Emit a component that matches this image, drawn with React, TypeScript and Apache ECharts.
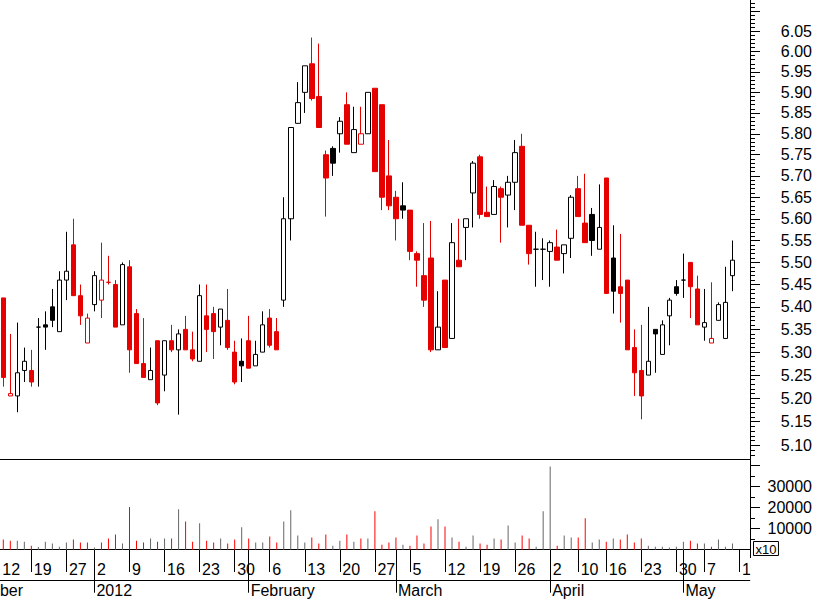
import React, { useEffect, useRef } from "react";
import * as echarts from "echarts";

// ---- calendar ----
const axisStartDate = "2011-12-01";
const axisEndDate = "2012-05-15";
const holidays = ["2011-12-26", "2012-04-06", "2012-04-09", "2012-05-01"];
const firstDataDate = "2011-12-13";
const closeBeforeFirst = 5.43;
const monthNames = ["January", "February", "March", "April", "May", "June", "July", "August", "September", "October", "November", "December"];

// ---- daily prices (13 Dec 2011 .. 11 May 2012) ----
const opens = [
  5.42, 5.205, 5.205, 5.26, 5.26, 5.355, 5.36, 5.40, 5.345, 5.46,
  5.54, 5.425, 5.32, 5.405, 5.415, 5.455, 5.45, 5.36, 5.49, 5.385,
  5.275, 5.24, 5.325, 5.25, 5.325, 5.305, 5.35, 5.305, 5.28, 5.38,
  5.385, 5.355, 5.37, 5.30, 5.28, 5.325, 5.27, 5.30, 5.375, 5.345,
  5.415, 5.60, 5.825, 5.90, 5.97, 5.89, 5.75, 5.765, 5.80, 5.87,
  5.755, 5.775, 5.80, 5.91, 5.87, 5.70, 5.65, 5.63, 5.62, 5.52,
  5.47, 5.51, 5.305, 5.46, 5.33, 5.505, 5.58, 5.66, 5.745, 5.615,
  5.61, 5.67, 5.655, 5.685, 5.77, 5.585, 5.53, 5.53, 5.525, 5.535,
  5.52, 5.555, 5.67, 5.59, 5.61, 5.53, 5.695, 5.51, 5.445, 5.46,
  5.31, 5.26, 5.25, 5.35, 5.295, 5.38, 5.445, 5.46, 5.50, 5.44,
  5.355, 5.32, 5.37, 5.33, 5.47,
];
const highs = [
  5.42, 5.34, 5.365, 5.31, 5.305, 5.375, 5.39, 5.44, 5.48, 5.57,
  5.60, 5.45, 5.385, 5.48, 5.545, 5.515, 5.46, 5.50, 5.505, 5.395,
  5.375, 5.31, 5.325, 5.325, 5.36, 5.35, 5.38, 5.345, 5.45, 5.45,
  5.40, 5.395, 5.44, 5.325, 5.33, 5.38, 5.325, 5.39, 5.395, 5.375,
  5.65, 5.815, 5.925, 5.965, 6.035, 6.02, 5.76, 5.77, 5.84, 5.90,
  5.865, 5.865, 5.90, 5.91, 5.87, 5.785, 5.665, 5.685, 5.62, 5.525,
  5.59, 5.595, 5.435, 5.46, 5.59, 5.60, 5.60, 5.735, 5.75, 5.675,
  5.69, 5.675, 5.70, 5.785, 5.80, 5.585, 5.57, 5.555, 5.55, 5.575,
  5.54, 5.655, 5.70, 5.705, 5.625, 5.68, 5.695, 5.585, 5.565, 5.46,
  5.35, 5.36, 5.40, 5.35, 5.37, 5.42, 5.46, 5.52, 5.50, 5.47,
  5.44, 5.455, 5.41, 5.49, 5.55,
];
const lows = [
  5.225, 5.205, 5.17, 5.235, 5.225, 5.225, 5.305, 5.355, 5.345, 5.415,
  5.425, 5.36, 5.32, 5.39, 5.375, 5.45, 5.355, 5.36, 5.255, 5.275,
  5.245, 5.24, 5.185, 5.215, 5.30, 5.165, 5.305, 5.28, 5.28, 5.30,
  5.285, 5.315, 5.305, 5.23, 5.235, 5.265, 5.27, 5.30, 5.31, 5.305,
  5.40, 5.55, 5.825, 5.85, 5.88, 5.815, 5.605, 5.70, 5.755, 5.775,
  5.755, 5.775, 5.80, 5.71, 5.62, 5.62, 5.55, 5.60, 5.505, 5.445,
  5.40, 5.30, 5.305, 5.31, 5.33, 5.49, 5.505, 5.58, 5.60, 5.605,
  5.61, 5.545, 5.58, 5.62, 5.585, 5.495, 5.445, 5.46, 5.445, 5.505,
  5.475, 5.51, 5.605, 5.545, 5.515, 5.53, 5.43, 5.385, 5.365, 5.305,
  5.205, 5.155, 5.25, 5.255, 5.295, 5.315, 5.425, 5.42, 5.375, 5.36,
  5.325, 5.32, 5.37, 5.33, 5.435,
];
const closes = [
  5.245, 5.21, 5.255, 5.28, 5.235, 5.355, 5.355, 5.37, 5.46, 5.48,
  5.425, 5.38, 5.375, 5.47, 5.46, 5.455, 5.355, 5.495, 5.305, 5.275,
  5.245, 5.26, 5.19, 5.325, 5.305, 5.34, 5.305, 5.285, 5.425, 5.35,
  5.345, 5.395, 5.31, 5.235, 5.27, 5.265, 5.295, 5.36, 5.315, 5.305,
  5.60, 5.815, 5.875, 5.965, 5.885, 5.815, 5.695, 5.73, 5.83, 5.775,
  5.81, 5.80, 5.90, 5.71, 5.65, 5.63, 5.60, 5.62, 5.525, 5.505,
  5.415, 5.305, 5.355, 5.31, 5.545, 5.49, 5.60, 5.73, 5.61, 5.605,
  5.675, 5.65, 5.685, 5.755, 5.585, 5.52, 5.53, 5.53, 5.545, 5.505,
  5.54, 5.65, 5.605, 5.545, 5.55, 5.58, 5.43, 5.435, 5.43, 5.305,
  5.255, 5.205, 5.28, 5.34, 5.36, 5.415, 5.43, 5.46, 5.445, 5.36,
  5.365, 5.33, 5.405, 5.41, 5.505,
];
const volumes = [
  4800, 4300, 4300, 3800, 1900, 1300, 3800, 2900, 1400, 3400,
  4800, 3400, 3400, 1000, 3400, 5300, 7200, 2900, 20200, 4300,
  3400, 5300, 3800, 5300, 5300, 19200, 13400, 3800, 12500, 4300,
  3400, 5300, 2900, 4800, 10600, 5300, 3400, 3400, 6200, 3400,
  13400, 18700, 6700, 3400, 5800, 2900, 7200, 1900, 4300, 7200,
  3800, 5300, 5300, 18200, 2400, 3400, 5800, 2400, 1900, 6700,
  2900, 11000, 14400, 11000, 5800, 3800, 1400, 6700, 2900, 2400,
  5300, 4800, 11500, 3400, 6700, 5300, 1400, 18200, 39400, 1900,
  6700, 5800, 5800, 14900, 3400, 4800, 3800, 5300, 4800, 7200,
  3400, 5300, 1900, 1400, 1400, 1000, 1400, 3800, 4300, 2900,
  2900, 1400, 4800, 1400, 2900,
];

// ---- axis ticks ----
const priceLabels = [5.10, 5.15, 5.20, 5.25, 5.30, 5.35, 5.40, 5.45, 5.50, 5.55, 5.60, 5.65, 5.70, 5.75, 5.80, 5.85, 5.90, 5.95, 6.00, 6.05];
const priceMajorTicks = [...priceLabels, 6.10];
const priceRange = [5.0706, 6.1293];
const volumeLabels = [10000, 20000, 30000];
const volumeMajorTicks = [10000, 20000, 30000, 40000];
const volumeMinorTicks = [5000, 15000, 25000, 35000];
const volumeRange = [-3791, 42512];

const RED = "#e60000";
const VOL_RED = "#ff0000";
const BLACK = "#000000";
const VOL_GREY = "#666666";
const FONT = "Liberation Sans";

function tradingDays(start: string, end: string, hol: string[]) {
  const out: string[] = [];
  const d = new Date(start + "T00:00:00Z");
  const e = new Date(end + "T00:00:00Z");
  while (d <= e) {
    const wd = d.getUTCDay();
    const s = d.toISOString().slice(0, 10);
    if (wd !== 0 && wd !== 6 && !hol.includes(s)) out.push(s);
    d.setUTCDate(d.getUTCDate() + 1);
  }
  return out;
}

function buildOption() {
  const dates = tradingDays(axisStartDate, axisEndDate, holidays);
  const offset = dates.indexOf(firstDataDate);
  const toDate = (s: string) => new Date(s + "T00:00:00Z");
  const weekStart = dates.map((s, k) => {
    if (k === 0) return true;
    const a = toDate(dates[k - 1]);
    const b = toDate(s);
    const diff = (b.getTime() - a.getTime()) / 86400000;
    return b.getUTCDay() < a.getUTCDay() || diff >= 7;
  });
  const monthStart = dates.map((s, k) => k === 0 || s.slice(5, 7) !== dates[k - 1].slice(5, 7));
  // first visible week label (the week that contains the first session)
  let firstWeekLabel = offset;
  while (firstWeekLabel > 0 && !weekStart[firstWeekLabel]) firstWeekLabel--;

  const candleData = dates.map((_, k) => {
    const i = k - offset;
    if (i < 0 || i >= closes.length) return "-";
    const prev = i === 0 ? closeBeforeFirst : closes[i - 1];
    const col = closes[i] < prev ? RED : BLACK;
    const fill = closes[i] > opens[i] ? "#ffffff" : col;
    return {
      value: [Math.log(opens[i]), Math.log(closes[i]), Math.log(lows[i]), Math.log(highs[i])],
      itemStyle: { color: fill, color0: fill, borderColor: col, borderColor0: col },
    };
  });
  const volData = dates.map((_, k) => {
    const i = k - offset;
    if (i < 0 || i >= volumes.length) return "-";
    const prev = i === 0 ? closeBeforeFirst : closes[i - 1];
    return { value: volumes[i], itemStyle: { color: closes[i] < prev ? VOL_RED : VOL_GREY } };
  });

  const minorTicks: number[] = [];
  for (let c = Math.ceil(priceRange[0] * 100); c <= Math.floor(priceRange[1] * 100); c++) {
    if (c % 5 !== 0) minorTicks.push(Math.log(c / 100));
  }
  const lnMin = Math.log(priceRange[0]);
  const lnMax = Math.log(priceRange[1]);

  const textBase = { fontFamily: FONT, fontSize: 16, color: "#000" };
  const lineBlack = { color: "#000", width: 1 };

  const catAxisBase = {
    type: "category",
    data: dates,
    boundaryGap: true,
    splitLine: { show: false },
  };

  return {
    animation: false,
    backgroundColor: "#ffffff",
    grid: [
      { left: -56.3, top: 0, width: 806.3, height: 459.3, outerBoundsMode: "none", containLabel: false },
      { left: -56.3, top: 460, width: 806.3, height: 97.7, outerBoundsMode: "none", containLabel: false },
    ],
    xAxis: [
      { ...catAxisBase, gridIndex: 0, axisLine: { show: true, lineStyle: lineBlack }, axisTick: { show: false }, axisLabel: { show: false } },
      {
        ...catAxisBase,
        gridIndex: 1,
        position: "bottom",
        axisLine: { show: true, lineStyle: lineBlack },
        axisTick: { show: true, alignWithLabel: true, inside: false, length: 22.3, interval: (idx: number) => weekStart[idx], lineStyle: lineBlack },
        axisLabel: {
          ...textBase,
          interval: (idx: number) => weekStart[idx] && idx >= firstWeekLabel,
          formatter: (v: string, idx: number) => {
            const t = String(Number(v.slice(8, 10)));
            return idx === firstWeekLabel ? `{edge|${t}}` : t;
          },
          rich: { edge: { ...textBase, padding: [0, 0, 0, 3.5] } },
          align: "left",
          margin: 3.5,
          padding: [0, 0, 0, 2.5],
        },
      },
      {
        ...catAxisBase,
        gridIndex: 1,
        position: "bottom",
        axisLine: { show: false },
        axisTick: { show: true, alignWithLabel: true, inside: false, length: 43, interval: (idx: number) => monthStart[idx], lineStyle: lineBlack },
        axisLabel: {
          ...textBase,
          interval: (idx: number) => monthStart[idx],
          formatter: (v: string) => {
            const m = Number(v.slice(5, 7)) - 1;
            return m === 0 ? v.slice(0, 4) : monthNames[m];
          },
          align: "left",
          margin: 25,
          padding: [0, 0, 0, 2],
        },
      },
      { ...catAxisBase, gridIndex: 1, position: "bottom", offset: 22.3, axisLine: { show: true, lineStyle: lineBlack }, axisTick: { show: false }, axisLabel: { show: false } },
    ],
    yAxis: [
      {
        type: "value",
        gridIndex: 0,
        position: "right",
        min: lnMin,
        max: lnMax,
        splitLine: { show: false },
        axisLine: { show: true, lineStyle: lineBlack },
        axisTick: { show: true, length: 10, customValues: priceMajorTicks.map((p) => Math.log(p)), lineStyle: lineBlack },
        axisLabel: {
          ...textBase,
          customValues: priceLabels.map((p) => Math.log(p)),
          formatter: (v: number) => Math.exp(v).toFixed(2),
          align: "right",
          margin: 62,
        },
      },
      {
        type: "value",
        gridIndex: 0,
        position: "right",
        min: lnMin,
        max: lnMax,
        splitLine: { show: false },
        axisLine: { show: false },
        axisTick: { show: true, length: 5, customValues: minorTicks, lineStyle: lineBlack },
        axisLabel: { show: false },
      },
      {
        type: "value",
        gridIndex: 1,
        position: "right",
        min: volumeRange[0],
        max: volumeRange[1],
        splitLine: { show: false },
        axisLine: { show: true, lineStyle: lineBlack },
        axisTick: { show: true, length: 10, customValues: volumeMajorTicks, lineStyle: lineBlack },
        axisLabel: { ...textBase, customValues: volumeLabels, formatter: (v: number) => String(v), align: "right", margin: 62 },
      },
      {
        type: "value",
        gridIndex: 1,
        position: "right",
        min: volumeRange[0],
        max: volumeRange[1],
        splitLine: { show: false },
        axisLine: { show: false },
        axisTick: { show: true, length: 5, customValues: volumeMinorTicks, lineStyle: lineBlack },
        axisLabel: { show: false },
      },
    ],
    series: [
      {
        type: "candlestick",
        xAxisIndex: 0,
        yAxisIndex: 0,
        barWidth: 5,
        data: candleData,
        itemStyle: { borderWidth: 1 },
        emphasis: { disabled: true },
      },
      {
        type: "bar",
        xAxisIndex: 1,
        yAxisIndex: 2,
        barWidth: 1,
        data: volData,
        emphasis: { disabled: true },
      },
    ],
    graphic: [
      {
        type: "rect",
        z: 100,
        shape: { x: 750.5, y: 558.5, width: 70, height: 45 },
        style: { fill: "#ffffff" },
      },
      {
        type: "text",
        z: 101,
        left: 753,
        top: 541,
        style: {
          text: "x10",
          font: `13px "${FONT}"`,
          fill: "#000",
          borderColor: "#000",
          borderWidth: 1,
          padding: [1, 2, 0, 2],
        },
      },
    ],
  };
}

export default function App() {
  const ref = useRef<HTMLDivElement>(null);
  useEffect(() => {
    if (!ref.current) return;
    const chart = echarts.init(ref.current, null, { renderer: "svg" });
    chart.setOption(buildOption() as any);
    return () => chart.dispose();
  }, []);
  return (
    <div
      ref={ref}
      style={{ position: "absolute", left: 0, top: 0, width: 817, height: 600, background: "#fff", overflow: "hidden" }}
    />
  );
}
